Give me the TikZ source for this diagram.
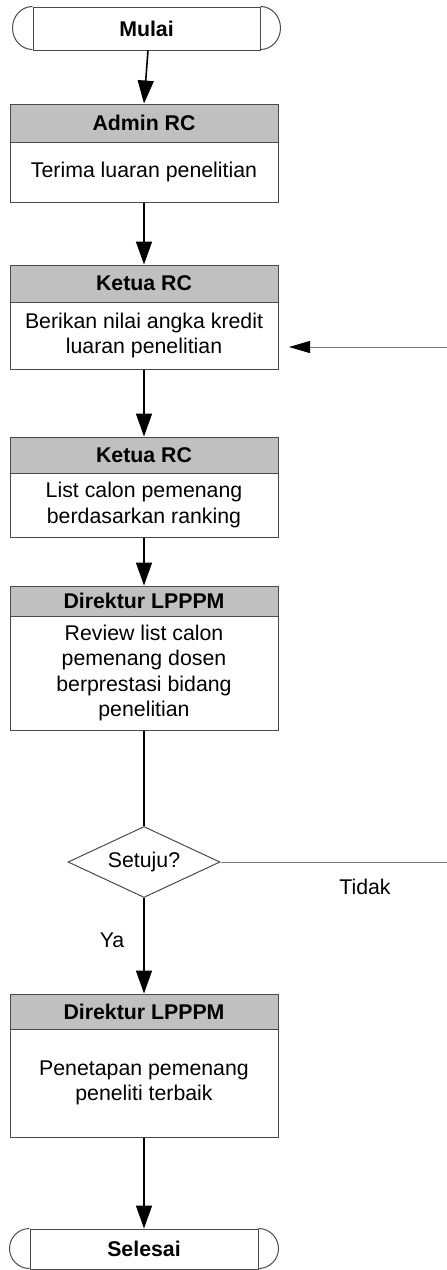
\documentclass[tikz,border=0pt]{standalone}
\usepackage{fontspec}
\setmainfont{Liberation Sans}
\usetikzlibrary{arrows.meta,shapes.geometric}
\definecolor{hdr}{HTML}{C0C0C0}
\definecolor{edgec}{HTML}{4A4A4A}
\definecolor{fbc}{HTML}{7A7A7A}
\begin{document}
\begin{tikzpicture}[x=1pt,y=-1pt,
  every node/.style={font=\fontsize{21.3}{25.5}\selectfont, inner sep=0pt},
  hdrbox/.style={draw=edgec, line width=1pt, fill=hdr, minimum width=268pt, font=\fontsize{21.3}{25.5}\selectfont\bfseries},
  bodybox/.style={draw=edgec, line width=1pt, fill=white, minimum width=268pt, align=center},
  term/.style={draw=edgec, line width=1pt, font=\fontsize{21.3}{25.5}\selectfont\bfseries},
  termend/.style={draw=edgec, line width=1pt},
  decision/.style={diamond, draw=edgec, line width=1pt, minimum width=152pt, minimum height=71pt, aspect=2.14},
  flow/.style={line width=1.6pt, -{Triangle[length=23pt,width=16pt]}},
  plainflow/.style={line width=1.6pt},
  fbline/.style={draw=fbc, line width=1pt},
  fbarrow/.style={draw=fbc, line width=1pt, -{Triangle[length=21pt,width=12pt,color=black]}}
]
\useasboundingbox (0,0) rectangle (447,1270);

% start
\node[term, minimum width=227pt, minimum height=43pt] (m) at (146.5,28.5) {Mulai};
\draw[termend] (m.north west) arc[start angle=90, end angle=270, x radius=20pt, y radius=21.5pt];
\draw[termend] (m.north east) arc[start angle=90, end angle=-90, x radius=20pt, y radius=21.5pt];

% box 1
\node[hdrbox, minimum height=38pt] (h1) at (144,123) {Admin RC};
\node[bodybox, minimum height=60pt] (b1) at (144,172) {Terima luaran penelitian};

% box 2
\node[hdrbox, minimum height=37pt] (h2) at (144,283.5) {Ketua RC};
\node[bodybox, minimum height=67pt] (b2) at (144,335.5) {Berikan nilai angka kredit\\luaran penelitian};

% box 3
\node[hdrbox, minimum height=36pt] (h3) at (144,455) {Ketua RC};
\node[bodybox, minimum height=64pt] (b3) at (144,505) {List calon pemenang\\berdasarkan ranking};

% box 4
\node[hdrbox, minimum height=30pt] (h4) at (144,601) {Direktur LPPPM};
\node[bodybox, minimum height=114pt] (b4) at (144,673) {Review list calon\\pemenang dosen\\berprestasi bidang\\penelitian};

% decision
\node[decision] (d) at (144,862) {Setuju?};

% box 5
\node[hdrbox, minimum height=35pt] (h5) at (144,1011.5) {Direktur LPPPM};
\node[bodybox, minimum height=108pt] (b5) at (144,1083) {Penetapan pemenang\\peneliti terbaik};

% end
\node[term, minimum width=228pt, minimum height=40pt] (s) at (144,1249) {Selesai};
\draw[termend] (s.north west) arc[start angle=90, end angle=270, x radius=20pt, y radius=20pt];
\draw[termend] (s.north east) arc[start angle=90, end angle=-90, x radius=20pt, y radius=20pt];

% labels
\node (ya) at (112,940) {Ya};
\node (tidak) at (365,887) {Tidak};

% connectors
\coordinate (r1) at (450,862);
\coordinate (r2) at (450,347);
\coordinate (t2) at (289,347);

\draw[flow] ([xshift=1.5pt]m.south) -- (h1.north);
\draw[flow] (b1.south) -- (h2.north);
\draw[flow] (b2.south) -- (h3.north);
\draw[flow] (b3.south) -- (h4.north);
\draw[plainflow] (b4.south) -- (d.north);
\draw[flow] (d.south) -- (h5.north);
\draw[flow] (b5.south) -- (s.north);
\draw[fbline] (d.east) -- (r1) -- (r2);
\draw[fbarrow] (r2) -- (t2);
\end{tikzpicture}
\end{document}
